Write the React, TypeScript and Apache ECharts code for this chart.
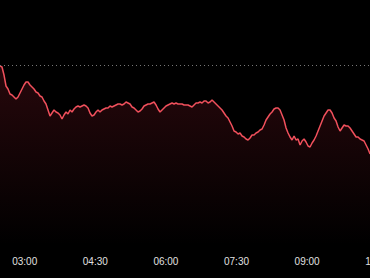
import React, { useEffect, useRef } from "react";
import * as echarts from "echarts";

// Time axis in minutes since 00:00
const startMinute = 148.5;
const sampleStepMinutes = 2.55;
const tickMinutes = [180, 270, 360, 450, 540, 630];
const referencePrice = 100;

// Price samples
const prices = [
  99.9, 99.8, 99.0, 97.9, 97.6, 97.1, 97.0, 96.8, 96.6, 96.8, 97.2, 97.6, 98.0, 98.3, 98.3, 98.0,
  97.8, 97.6, 97.3, 97.2, 96.9, 96.8, 96.4, 96.1, 95.5, 94.9, 95.2, 95.5, 95.3, 95.2, 95.0, 94.6,
  95.0, 95.3, 95.1, 95.5, 95.3, 95.6, 95.8, 95.9, 95.8, 95.9, 96.0, 95.9, 95.7, 95.2, 94.9, 95.0,
  95.3, 95.5, 95.3, 95.5, 95.6, 95.7, 95.7, 95.9, 95.8, 95.9, 96.0, 96.1, 96.1, 96.0, 96.1, 96.3,
  96.2, 96.1, 95.8, 95.7, 95.5, 95.3, 95.4, 95.6, 95.9, 96.0, 96.1, 96.1, 96.2, 96.3, 96.0, 95.6,
  95.3, 95.5, 95.7, 95.9, 96.0, 96.1, 96.2, 96.1, 96.2, 96.1, 96.1, 96.1, 96.0, 96.0, 96.0, 95.9,
  95.8, 96.0, 96.2, 96.2, 96.3, 96.2, 96.4, 96.4, 96.2, 96.3, 96.5, 96.3, 96.1, 95.9, 95.7, 95.5,
  95.2, 94.9, 94.7, 94.3, 93.9, 93.4, 93.3, 93.1, 93.2, 92.9, 92.8, 92.6, 92.5, 92.7, 93.0, 93.0,
  93.2, 93.3, 93.5, 93.6, 94.0, 94.5, 94.8, 95.1, 95.3, 95.6, 95.7, 95.7, 95.5, 95.0, 94.5, 93.7,
  93.2, 92.8, 92.5, 92.9, 92.5, 92.6, 92.0, 92.4, 92.6, 92.3, 91.9, 91.8, 92.2, 92.5, 92.9, 93.4,
  93.9, 94.4, 94.9, 95.2, 95.5, 95.5, 95.2, 94.7, 94.4, 93.8, 93.4, 93.7, 94.0, 93.9, 93.9, 93.7,
  93.4, 93.1, 92.8, 92.8, 92.6, 92.5, 92.4, 92.0, 91.6, 91.1
];

const formatMinute = (m: number) => {
  const h = Math.floor(m / 60);
  const mm = Math.round(m - h * 60);
  return String(h).padStart(2, "0") + ":" + String(mm).padStart(2, "0");
};

export default function App() {
  const ref = useRef<HTMLDivElement>(null);
  useEffect(() => {
    document.body.style.margin = "0";
    document.body.style.background = "#000";
    if (!ref.current) return;
    const chart = echarts.init(ref.current, undefined, { renderer: "svg" });
    const seriesData = prices.map((p, i) => [startMinute + i * sampleStepMinutes, p]);
    chart.setOption({
      animation: false,
      backgroundColor: "#000000",
      grid: { left: 0, top: 20, width: 400, bottom: 33, outerBoundsMode: "none", containLabel: false },
      xAxis: {
        type: "value",
        min: startMinute,
        max: startMinute + 400 / (70.6 / 90),
        axisLine: { show: false },
        axisTick: { show: false },
        splitLine: { show: false },
        axisLabel: {
          customValues: tickMinutes,
          formatter: (v: number) => formatMinute(v),
          color: "#e0e0e0",
          fontSize: 10,
          fontFamily: "'Liberation Sans Narrow', 'Liberation Sans', sans-serif",
          margin: 11,
          hideOverlap: false,
        },
      },
      yAxis: {
        type: "value",
        min: 82,
        max: 104.5,
        show: false,
        splitLine: { show: false },
      },
      series: [
        {
          type: "line",
          data: seriesData,
          showSymbol: false,
          symbol: "none",
          lineStyle: { color: "#f0505c", width: 1.5 },
          areaStyle: {
            color: new echarts.graphic.LinearGradient(0, 0, 0, 1, [
              { offset: 0, color: "rgba(200,40,60,0.28)" },
              { offset: 1, color: "rgba(200,40,60,0)" },
            ]),
          },
          markLine: {
            silent: true,
            symbol: "none",
            label: { show: false },
            lineStyle: { color: "#777", type: [1, 3], width: 1 },
            data: [{ yAxis: referencePrice }],
          },
        },
      ],
    });
    return () => chart.dispose();
  }, []);
  return <div ref={ref} style={{ width: 370, height: 278 }} />;
}
